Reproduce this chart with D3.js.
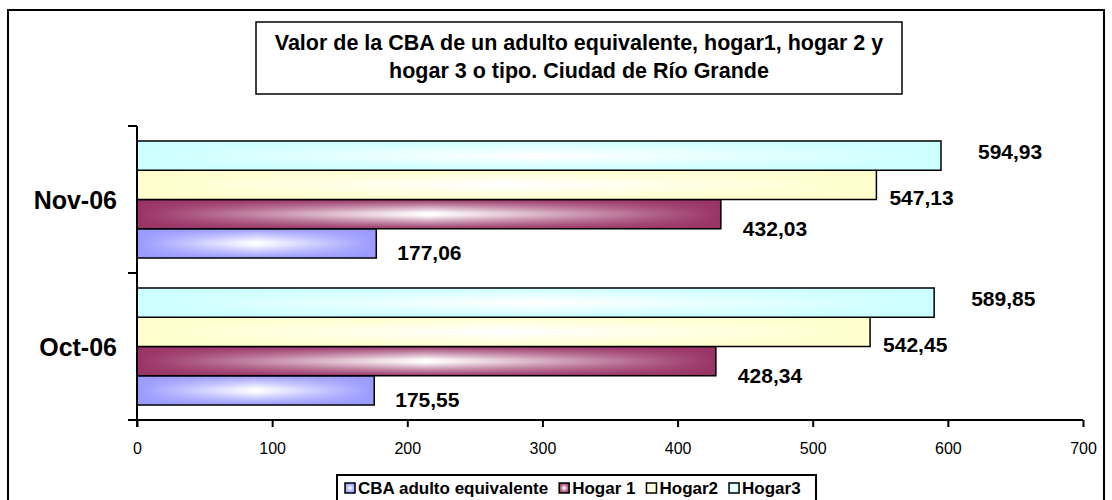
<!DOCTYPE html>
<html>
<head>
<meta charset="utf-8">
<script src="https://cdn.jsdelivr.net/npm/d3@7/dist/d3.min.js"></script>
<style>
  html, body { margin: 0; padding: 0; background: #fff; }
  svg { display: block; font-family: "Liberation Sans", Arial, sans-serif; }
</style>
</head>
<body>
<svg id="chart" width="1112" height="500"></svg>
<script>
// ---- data ----
const categories = ["Nov-06", "Oct-06"];
const seriesNames = ["CBA adulto equivalente", "Hogar 1", "Hogar2", "Hogar3"];
const cbaValues    = [177.06, 175.55];
const hogar1Values = [432.03, 428.34];
const hogar2Values = [547.13, 542.45];
const hogar3Values = [594.93, 589.85];
const xTicks = [0, 100, 200, 300, 400, 500, 600, 700];
const titleLines = ["Valor de la CBA de un adulto equivalente, hogar1, hogar 2 y",
                    "hogar 3 o tipo. Ciudad de Río Grande"];

// ---- style ----
const seriesColors = ["#9999FF", "#993366", "#FFFFCC", "#CCFFFF"];
const labelNudge = [{dx: 21, dy: 9}, {dx: 22, dy: 14}, {dx: 13, dy: 13}, {dx: 37, dy: -4}];

const seriesValues = [cbaValues, hogar1Values, hogar2Values, hogar3Values];
const fmt = v => v.toFixed(2).replace(".", ",");

const svg = d3.select("#chart");

// outer frame
svg.append("rect").attr("x", 8).attr("y", 10).attr("width", 1096).attr("height", 500)
  .attr("fill", "#fff").attr("stroke", "#000").attr("stroke-width", 2);

// gradients
const defs = svg.append("defs");
seriesColors.forEach((c, i) => {
  const h = defs.append("linearGradient").attr("id", "gh" + i)
    .attr("x1", 0).attr("y1", 0).attr("x2", 1).attr("y2", 0);
  h.append("stop").attr("offset", 0).attr("stop-color", c);
  h.append("stop").attr("offset", 0.5).attr("stop-color", "#ffffff");
  h.append("stop").attr("offset", 1).attr("stop-color", c);
  const v = defs.append("linearGradient").attr("id", "gv" + i)
    .attr("x1", 0).attr("y1", 0).attr("x2", 0).attr("y2", 1);
  v.append("stop").attr("offset", 0).attr("stop-color", c).attr("stop-opacity", 1);
  v.append("stop").attr("offset", 0.45).attr("stop-color", c).attr("stop-opacity", 0);
  v.append("stop").attr("offset", 0.55).attr("stop-color", c).attr("stop-opacity", 0);
  v.append("stop").attr("offset", 1).attr("stop-color", c).attr("stop-opacity", 1);
});

// scales
const x = d3.scaleLinear().domain([0, 700]).range([137, 1083]);
const y = d3.scaleBand().domain(categories).range([126, 420])
  .paddingInner(0.204).paddingOuter(0.102);
// series drawn top-to-bottom: Hogar3, Hogar2, Hogar1, CBA
const ySeries = d3.scaleBand().domain([3, 2, 1, 0]).range([0, y.bandwidth()]);

// bars
const barsG = svg.append("g");
categories.forEach((cat, ci) => {
  seriesValues.forEach((vals, si) => {
    const by = y(cat) + ySeries(si);
    const bw = x(vals[ci]) - x(0);
    const bh = ySeries.bandwidth();
    barsG.append("rect").attr("x", x(0)).attr("y", by).attr("width", bw).attr("height", bh)
      .attr("fill", "url(#gh" + si + ")");
    barsG.append("rect").attr("x", x(0)).attr("y", by).attr("width", bw).attr("height", bh)
      .attr("fill", "url(#gv" + si + ")").attr("stroke", "#000").attr("stroke-width", 1.5);
  });
});

// value labels
categories.forEach((cat, ci) => {
  seriesValues.forEach((vals, si) => {
    const cy = y(cat) + ySeries(si) + ySeries.bandwidth() / 2;
    svg.append("text").attr("x", x(vals[ci]) + labelNudge[si].dx)
      .attr("y", cy + labelNudge[si].dy).attr("dy", "0.36em")
      .attr("font-size", 21).attr("font-weight", "bold").attr("fill", "#000")
      .text(fmt(vals[ci]));
  });
});

// x axis
const xAxis = d3.axisBottom(x).tickValues(xTicks).tickSize(7).tickPadding(16).tickFormat(d3.format("d"));
const xg = svg.append("g").attr("transform", "translate(0,420)").call(xAxis);
xg.select(".domain").attr("stroke", "#000").attr("stroke-width", 2).attr("d", "M137,0H1083");
xg.selectAll(".tick line").attr("stroke", "#000").attr("stroke-width", 2);
xg.selectAll(".tick text").attr("font-size", 16).attr("font-family", "Liberation Sans, Arial, sans-serif").attr("fill", "#000");

// y axis: ticks at band boundaries
const yg = svg.append("g");
yg.append("line").attr("x1", x(0)).attr("x2", x(0)).attr("y1", 126).attr("y2", 427)
  .attr("stroke", "#000").attr("stroke-width", 2);
const bounds = [y.range()[0], y.range()[0] + y.step(), y.range()[1]];
bounds.forEach(b => {
  yg.append("line").attr("x1", x(0) - 9).attr("x2", x(0)).attr("y1", b).attr("y2", b)
    .attr("stroke", "#000").attr("stroke-width", 2);
});
categories.forEach(cat => {
  yg.append("text").attr("x", x(0) - 20).attr("y", y(cat) + y.bandwidth() / 2)
    .attr("dy", "0.36em").attr("text-anchor", "end")
    .attr("font-size", 25).attr("font-weight", "bold").text(cat);
});

// title box
svg.append("rect").attr("x", 256).attr("y", 22).attr("width", 646).attr("height", 72)
  .attr("fill", "#fff").attr("stroke", "#000").attr("stroke-width", 1.5);
titleLines.forEach((t, i) => {
  svg.append("text").attr("x", 579).attr("y", 50 + i * 28).attr("text-anchor", "middle")
    .attr("font-size", 21.5).attr("font-weight", "bold").text(t);
});

// legend
const lg = svg.append("g");
lg.append("rect").attr("x", 337).attr("y", 475).attr("width", 479).attr("height", 40)
  .attr("fill", "#fff").attr("stroke", "#000").attr("stroke-width", 2);
let lx = 345;
seriesNames.forEach((name, i) => {
  lg.append("rect").attr("x", lx).attr("y", 483).attr("width", 10).attr("height", 10)
    .attr("fill", "url(#gh" + i + ")");
  lg.append("rect").attr("x", lx).attr("y", 483).attr("width", 10).attr("height", 10)
    .attr("fill", "url(#gv" + i + ")").attr("stroke", "#000").attr("stroke-width", 1.5);
  const t = lg.append("text").attr("x", lx + 13).attr("y", 494)
    .attr("font-size", 17).attr("font-weight", "bold").text(name);
  lx += 13 + t.node().getComputedTextLength() + 11;
});
</script>
</body>
</html>
